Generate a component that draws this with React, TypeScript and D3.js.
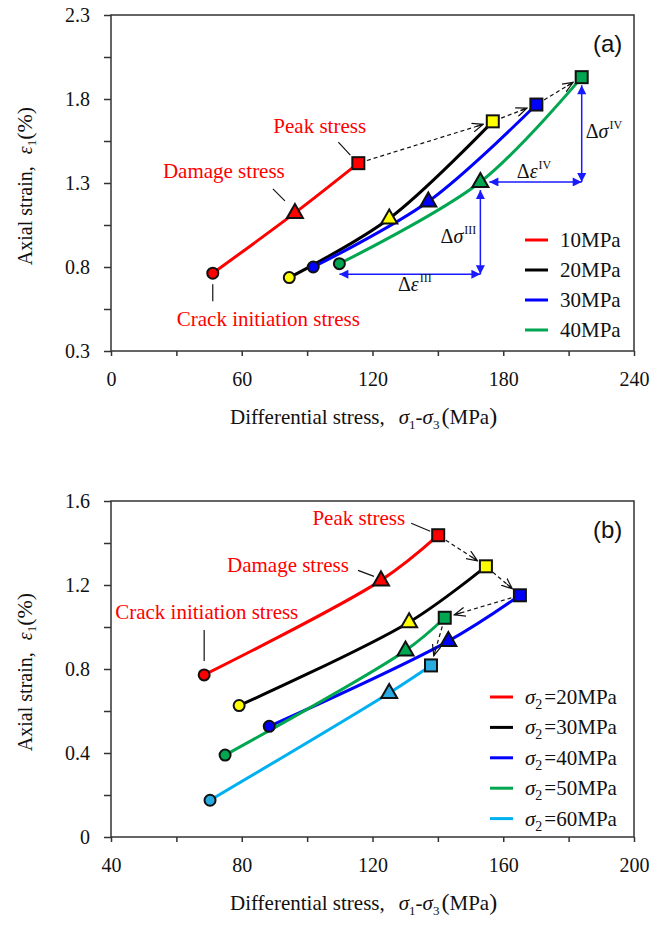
import React, { useEffect, useRef } from "react";
import * as d3 from "d3";

const SERIF = "'Times New Roman', 'Liberation Serif', serif";
const SANS = "Arial, 'Liberation Sans', sans-serif";

// ---- panel (a): sigma3 levels
const legendA = ["10MPa", "20MPa", "30MPa", "40MPa"];
const lineColorsA = ["#ff0000", "#000000", "#0000ff", "#00a650"];
const markerColorsA = ["#ff0000", "#ffff00", "#0000ff", "#00a650"];
// [differential stress (MPa), axial strain (%)]
const crackInitA = [[46.7, 0.763], [81.8, 0.737], [92.8, 0.8], [104.8, 0.82]];
const damageA = [[84.4, 1.122], [127.7, 1.089], [145.6, 1.19], [169.5, 1.306]];
const peakA = [[113.5, 1.418], [175.2, 1.667], [195.2, 1.767], [216, 1.93]];
const xTicksA = [0, 60, 120, 180, 240];
const xMinorA = [30, 90, 150, 210];
const yTicksA = [0.3, 0.8, 1.3, 1.8, 2.3];
const yMinorA = [0.55, 1.05, 1.55, 2.05];
const dimBaseA = 0.757;

// ---- panel (b): sigma2 levels
const legendB = ["20MPa", "30MPa", "40MPa", "50MPa", "60MPa"];
const lineColorsB = ["#ff0000", "#000000", "#0000ff", "#00a650", "#00b0f0"];
const markerColorsB = ["#ff0000", "#ffff00", "#0000ff", "#00a650", "#29abe2"];
const crackInitB = [[68.5, 0.772], [79.2, 0.626], [88.4, 0.527], [74.9, 0.39], [70.3, 0.175]];
const damageB = [[122.6, 1.222], [131.2, 1.023], [143.2, 0.933], [130.1, 0.888], [125.1, 0.686]];
const peakB = [[140.1, 1.437], [154.7, 1.289], [165.1, 1.151], [142.1, 1.044], [137.9, 0.817]];
const xTicksB = [40, 80, 120, 160, 200];
const xMinorB = [60, 100, 140, 180];
const yTicksB = [0, 0.4, 0.8, 1.2, 1.6];
const yMinorB = [0.2, 0.6, 1.0, 1.4];

const LEFT = 111;
const RIGHT = 634;

const panelA = {
  tag: "(a)", top: 15, bottom: 351,
  xDomain: [0, 240], yDomain: [0.3, 2.3],
  xTicks: xTicksA, xMinor: xMinorA, yTicks: yTicksA, yMinor: yMinorA,
  yFmt: (d) => d.toFixed(1),
  names: legendA, lineColors: lineColorsA, markerColors: markerColorsA,
  ci: crackInitA, cd: damageA, pk: peakA,
  arrows: [[0, 1], [1, 2], [2, 3]],
  legend: { x: 525, y: 240, step: 30, sigma: false },
  notes: {
    peak: { dx: -85, dy: -30, anchor: "start", l: [-20, -21, -8, -8] },
    damage: { dx: -132, dy: -35, anchor: "start", l: [-22, -24, -10, -12] },
    crack: { dx: -36, dy: 53, anchor: "start", l: [0, 11, 0, 28] },
  },
};

const panelB = {
  tag: "(b)", top: 501, bottom: 837,
  xDomain: [40, 200], yDomain: [0, 1.6],
  xTicks: xTicksB, xMinor: xMinorB, yTicks: yTicksB, yMinor: yMinorB,
  yFmt: (d) => (d === 0 ? "0" : d.toFixed(1)),
  names: legendB, lineColors: lineColorsB, markerColors: markerColorsB,
  ci: crackInitB, cd: damageB, pk: peakB,
  arrows: [[0, 1], [1, 2], [2, 3], [3, 4]],
  legend: { x: 490, y: 697, step: 30.4, sigma: true },
  notes: {
    peak: { dx: -33, dy: -10, anchor: "end", l: [-27, -12, -8, -4] },
    damage: { dx: -154, dy: -8, anchor: "start", l: [-23, -10, -7, -4] },
    crack: { dx: -89, dy: -56, anchor: "start", l: [0, -45, 0, -14] },
  },
};

function drawPanel(svg, p) {
  const g = svg.append("g");
  const x = d3.scaleLinear().domain(p.xDomain).range([LEFT, RIGHT]);
  const y = d3.scaleLinear().domain(p.yDomain).range([p.bottom, p.top]);

  // axes
  const xAxis = d3.axisBottom(x).tickValues(p.xTicks).tickSize(5).tickPadding(16).tickFormat(d3.format("d"));
  const xMinor = d3.axisBottom(x).tickValues(p.xMinor).tickSize(5).tickFormat(() => "");
  const yAxis = d3.axisLeft(y).tickValues(p.yTicks).tickSize(7).tickPadding(14).tickFormat(p.yFmt);
  const yMinor = d3.axisLeft(y).tickValues(p.yMinor).tickSize(7).tickFormat(() => "");

  [
    [xAxis, `translate(0,${p.bottom})`],
    [xMinor, `translate(0,${p.bottom})`],
    [yAxis, `translate(${LEFT},0)`],
    [yMinor, `translate(${LEFT},0)`],
  ].forEach(([ax, tr]) => {
    const a = g.append("g").attr("transform", tr).call(ax);
    a.select(".domain").remove();
    a.selectAll("line").attr("stroke", "#333").attr("stroke-width", 1.5);
    a.selectAll("text").attr("font-family", SERIF).attr("font-size", 20).attr("fill", "#111");
  });

  g.append("rect")
    .attr("x", LEFT).attr("y", p.top)
    .attr("width", RIGHT - LEFT).attr("height", p.bottom - p.top)
    .attr("fill", "none").attr("stroke", "#333").attr("stroke-width", 1.5);

  // axis titles
  const xt = g.append("text")
    .attr("x", 230).attr("y", p.bottom + 73)
    .attr("font-family", SERIF).attr("font-size", 21).attr("fill", "#111");
  xt.append("tspan").text("Differential stress,");
  xt.append("tspan").attr("dx", 14).attr("font-style", "italic").text("σ");
  xt.append("tspan").attr("font-size", 13).attr("dy", 5).text("1");
  xt.append("tspan").attr("dy", -5).text("-");
  xt.append("tspan").attr("font-style", "italic").text("σ");
  xt.append("tspan").attr("font-size", 13).attr("dy", 5).text("3");
  xt.append("tspan").attr("dy", -5).attr("dx", 2).attr("font-size", 24).text("(");
  xt.append("tspan").text("MPa");
  xt.append("tspan").attr("font-size", 24).text(")");

  const mid = (p.top + p.bottom) / 2 + 3;
  const yt = g.append("text")
    .attr("transform", `translate(32,${mid}) rotate(-90)`)
    .attr("text-anchor", "middle")
    .attr("font-family", SERIF).attr("font-size", 20).attr("fill", "#111");
  yt.append("tspan").text("Axial strain,");
  yt.append("tspan").attr("dx", 12).attr("font-style", "italic").text("ε");
  yt.append("tspan").attr("font-size", 13).attr("dy", 4).text("1");
  yt.append("tspan").attr("dy", -4).attr("font-size", 22).text("(%)");

  // curves
  const line = d3.line().x((d) => x(d[0])).y((d) => y(d[1])).curve(d3.curveCatmullRom.alpha(0.5));
  p.names.forEach((n, i) => {
    g.append("path")
      .attr("d", line([p.ci[i], p.cd[i], p.pk[i]]))
      .attr("fill", "none").attr("stroke", p.lineColors[i]).attr("stroke-width", 3);
  });

  // dashed arrows between peaks
  p.arrows.forEach(([a, b]) => {
    const x1 = x(p.pk[a][0]), y1 = y(p.pk[a][1]);
    const x2 = x(p.pk[b][0]), y2 = y(p.pk[b][1]);
    const len = Math.hypot(x2 - x1, y2 - y1);
    const ux = (x2 - x1) / len, uy = (y2 - y1) / len;
    g.append("line")
      .attr("x1", x1 + ux * 9).attr("y1", y1 + uy * 9)
      .attr("x2", x2 - ux * 10).attr("y2", y2 - uy * 10)
      .attr("stroke", "#111").attr("stroke-width", 1.2)
      .attr("stroke-dasharray", "4,3")
      .attr("marker-end", "url(#openArrow)");
  });

  // dimension arrows (panel a only)
  if (p.tag === "(a)") {
    const c = p.ci[3], t = p.cd[3], s = p.pk[3];
    const xb = y(dimBaseA);
    const dims = [
      [x(c[0]), xb, x(t[0]), xb],
      [x(t[0]), y(t[1]) + 8, x(t[0]), xb],
      [x(t[0]) + 9, y(t[1]), x(s[0]), y(t[1])],
      [x(s[0]), y(s[1]) + 8, x(s[0]), y(t[1])],
    ];
    dims.forEach(([a1, b1, a2, b2]) => {
      g.append("line")
        .attr("x1", a1).attr("y1", b1).attr("x2", a2).attr("y2", b2)
        .attr("stroke", "#1a1aff").attr("stroke-width", 1.5)
        .attr("marker-start", "url(#blueHead)").attr("marker-end", "url(#blueHead)");
    });
    const dimLabel = (tx, ty, anchor, sym, sup) => {
      const tt = g.append("text").attr("x", tx).attr("y", ty).attr("text-anchor", anchor)
        .attr("font-family", SERIF).attr("font-size", 20).attr("fill", "#111");
      tt.append("tspan").text("Δ");
      tt.append("tspan").attr("font-style", "italic").text(sym);
      tt.append("tspan").attr("font-size", 12).attr("dy", -9).attr("dx", 1).text(sup);
    };
    dimLabel((x(c[0]) + x(t[0])) / 2 + 5, xb + 17, "middle", "ε", "III");
    dimLabel(x(t[0]) - 4, (y(t[1]) + xb) / 2 + 15, "end", "σ", "III");
    dimLabel((x(t[0]) + x(s[0])) / 2 + 3, y(t[1]) - 4, "middle", "ε", "IV");
    dimLabel(x(s[0]) + 4, (y(s[1]) + y(t[1])) / 2 + 8, "start", "σ", "IV");
  }

  // markers
  p.names.forEach((n, i) => {
    const col = p.markerColors[i];
    g.append("circle")
      .attr("cx", x(p.ci[i][0])).attr("cy", y(p.ci[i][1])).attr("r", 5.5)
      .attr("fill", col).attr("stroke", "#111").attr("stroke-width", 2);
    g.append("path")
      .attr("transform", `translate(${x(p.cd[i][0])},${y(p.cd[i][1])})`)
      .attr("d", "M0,-9L8,5L-8,5Z")
      .attr("fill", col).attr("stroke", "#111").attr("stroke-width", 2).attr("stroke-linejoin", "miter");
    g.append("rect")
      .attr("x", x(p.pk[i][0]) - 6).attr("y", y(p.pk[i][1]) - 6)
      .attr("width", 12).attr("height", 12)
      .attr("fill", col).attr("stroke", "#111").attr("stroke-width", 2);
  });

  // red annotations
  const notePts = { peak: p.pk[0], damage: p.cd[0], crack: p.ci[0] };
  const noteText = { peak: "Peak stress", damage: "Damage stress", crack: "Crack initiation stress" };
  Object.keys(p.notes).forEach((k) => {
    const o = p.notes[k];
    const px = x(notePts[k][0]), py = y(notePts[k][1]);
    g.append("text")
      .attr("x", px + o.dx).attr("y", py + o.dy).attr("text-anchor", o.anchor)
      .attr("font-family", SERIF).attr("font-size", 21).attr("fill", "#ff0000")
      .text(noteText[k]);
    g.append("line")
      .attr("x1", px + o.l[0]).attr("y1", py + o.l[1])
      .attr("x2", px + o.l[2]).attr("y2", py + o.l[3])
      .attr("stroke", "#111").attr("stroke-width", 1.2);
  });

  // legend
  p.names.forEach((n, i) => {
    const ly = p.legend.y + i * p.legend.step;
    g.append("line")
      .attr("x1", p.legend.x).attr("x2", p.legend.x + 23)
      .attr("y1", ly).attr("y2", ly)
      .attr("stroke", p.lineColors[i]).attr("stroke-width", 3);
    const lt = g.append("text")
      .attr("x", p.legend.x + 35).attr("y", ly + 7)
      .attr("font-family", SERIF).attr("font-size", 21).attr("fill", "#111");
    if (p.legend.sigma) {
      lt.append("tspan").attr("font-style", "italic").text("σ");
      lt.append("tspan").attr("font-size", 14).attr("dy", 5).text("2");
      lt.append("tspan").attr("dy", -5).attr("dx", 2).text("=" + n);
    } else {
      lt.text(n);
    }
  });

  // panel tag
  g.append("text")
    .attr("x", 593).attr("y", p.top + 37)
    .attr("font-family", SANS).attr("font-size", 24).attr("fill", "#111")
    .text(p.tag);
}

function App() {
  const svgRef = useRef(null);

  useEffect(() => {
    const svg = d3.select(svgRef.current);
    svg.selectAll("*").remove();
    const defs = svg.append("defs");
    defs.append("marker")
      .attr("id", "openArrow").attr("viewBox", "0 0 12 10")
      .attr("refX", 11).attr("refY", 5)
      .attr("markerWidth", 12).attr("markerHeight", 10)
      .attr("markerUnits", "userSpaceOnUse").attr("orient", "auto")
      .append("path").attr("d", "M0,0.5L11,5L0,9.5M4,5L11,5")
      .attr("fill", "none").attr("stroke", "#111").attr("stroke-width", 1.2);
    defs.append("marker")
      .attr("id", "blueHead").attr("viewBox", "0 0 10 10")
      .attr("refX", 10).attr("refY", 5)
      .attr("markerWidth", 11).attr("markerHeight", 9)
      .attr("markerUnits", "userSpaceOnUse").attr("orient", "auto-start-reverse")
      .append("path").attr("d", "M0,0L10,5L0,10Z").attr("fill", "#1a1aff");

    drawPanel(svg, panelA);
    drawPanel(svg, panelB);
  }, []);

  return (
    <svg
      ref={svgRef}
      width={650}
      height={926}
      style={{ position: "absolute", left: 0, top: 0, background: "#fff" }}
    />
  );
}

export default App;
